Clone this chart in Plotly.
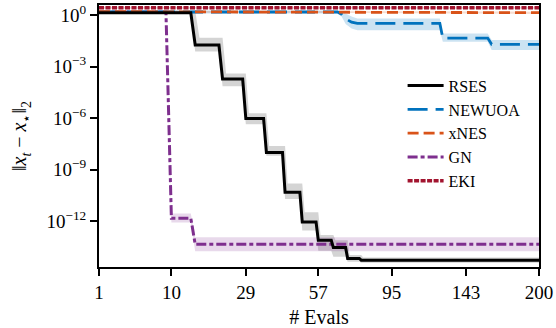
import numpy as np
import plotly.graph_objects as go

# x positions are numbers of evaluations, the axis is drawn on a sqrt scale
x_ticks = [1, 10, 29, 57, 95, 143, 200]
y_ticks = [1e0, 1e-3, 1e-6, 1e-9, 1e-12]
y_ticktext = ["10<sup>0</sup>", "10<sup>\u22123</sup>", "10<sup>\u22126</sup>",
              "10<sup>\u22129</sup>", "10<sup>\u221212</sup>"]

rses_evals = [1, 14, 15, 21, 22, 28, 29, 35, 36, 42, 43, 49, 50, 56, 57, 63, 64, 70, 71, 77, 78, 200]
rses_med = [1.35, 1.35, 1.78e-2, 1.78e-2, 1.86e-4, 1.86e-4, 9.5e-7, 9.5e-7, 1.0e-8, 1.0e-8,
            4.9e-11, 4.9e-11, 9.1e-13, 9.1e-13, 7.9e-14, 7.9e-14, 3.0e-14, 3.0e-14,
            7.1e-15, 7.1e-15, 5.6e-15, 5.6e-15]
rses_lo = [1.12, 1.12, 7.4e-3, 7.4e-3, 7.1e-5, 7.1e-5, 4.5e-7, 4.5e-7, 6.5e-9, 6.5e-9,
           2.0e-11, 2.0e-11, 3.0e-13, 3.0e-13, 2.0e-14, 2.0e-14, 8.7e-15, 8.7e-15,
           4.5e-15, 4.5e-15, 4.0e-15, 4.0e-15]
rses_hi_evals = [1, 15, 16, 22, 23, 29, 30, 36, 37, 43, 44, 50, 51, 57, 58, 64, 65, 71, 72, 78, 79, 200]
rses_hi = [1.78, 1.78, 4.7e-2, 4.7e-2, 4.0e-4, 4.0e-4, 1.95e-6, 1.95e-6, 2.4e-8, 2.4e-8,
           1.6e-10, 1.6e-10, 3.4e-12, 3.4e-12, 1.6e-13, 1.6e-13, 7.9e-14, 7.9e-14,
           1.1e-14, 1.1e-14, 7.9e-15, 7.9e-15]

newuoa_evals = [1, 66, 68, 70, 73, 76, 125, 127, 159, 162, 200]
newuoa_med = [1.48, 1.48, 1.1, 0.6, 0.38, 0.32, 0.32, 4.5e-2, 4.5e-2, 1.95e-2, 1.95e-2]
newuoa_lo = [1.2, 1.2, 0.8, 0.3, 0.16, 0.13, 0.13, 2.75e-2, 2.75e-2, 9.1e-3, 9.1e-3]
newuoa_hi = [1.8, 1.8, 1.6, 1.2, 0.8, 0.62, 0.62, 8.3e-2, 8.3e-2, 3.5e-2, 3.5e-2]

xnes_evals = [1, 50, 100, 150, 200]
xnes_med = [1.55, 1.52, 1.48, 1.42, 1.35]
xnes_lo = [1.35, 1.32, 1.28, 1.22, 1.15]
xnes_hi = [1.75, 1.72, 1.68, 1.62, 1.55]

gn_evals = [1, 9, 10, 14, 15, 200]
gn_med = [1.45, 1.45, 1.55e-12, 1.55e-12, 4.7e-14, 4.7e-14]
gn_lo = [1.2, 1.2, 8.7e-13, 8.7e-13, 1.86e-14, 1.86e-14]
gn_hi = [1.8, 1.8, 2.9e-12, 2.9e-12, 1.2e-13, 1.2e-13]

eki_evals = [1, 200]
eki_med = [2.6, 2.6]
eki_lo = [2.3, 2.3]
eki_hi = [2.95, 2.95]

FONT = "Liberation Serif"


def sx(evals):
  return np.sqrt(np.array(evals, dtype=float))


def band(evals_lo, lo, evals_hi, hi, color):
  x = np.concatenate([sx(evals_hi), sx(evals_lo)[::-1]])
  y = list(hi) + list(lo)[::-1]
  return go.Scatter(x=x, y=y, fill="toself", fillcolor=color, mode="lines",
                    line=dict(width=0, color=color), hoverinfo="skip", showlegend=False)


def line(evals, vals, name, color, width, dash, rank):
  return go.Scatter(x=sx(evals), y=vals, name=name, mode="lines", legendrank=rank,
                    line=dict(color=color, width=width, dash=dash))


blue = "#0072BD"
orange = "#D95319"
purple = "#7E2F8E"
red = "#A2142F"

traces = [
  band(rses_evals, rses_lo, rses_hi_evals, rses_hi, "rgba(0,0,0,0.17)"),
  band(newuoa_evals, newuoa_lo, newuoa_evals, newuoa_hi, "rgba(0,114,189,0.2)"),
  band(gn_evals, gn_lo, gn_evals, gn_hi, "rgba(126,47,142,0.18)"),
  band(xnes_evals, xnes_lo, xnes_evals, xnes_hi, "rgba(217,83,25,0.2)"),
  band(eki_evals, eki_lo, eki_evals, eki_hi, "rgba(162,20,47,0.2)"),
  line(gn_evals, gn_med, "GN", purple, 3, "10px,3px,4px,3px", 4),
  line(newuoa_evals, newuoa_med, "NEWUOA", blue, 2.8, "20px,8px", 2),
  line(xnes_evals, xnes_med, "xNES", orange, 2.8, "11px,5px", 3),
  line(rses_evals, rses_med, "RSES", "black", 3, "solid", 1),
  line(eki_evals, eki_med, "EKI", red, 3.5, "5px,1.5px", 5),
]

fig = go.Figure(data=traces)

fig.update_layout(
  width=556, height=328,
  margin=dict(l=99, r=17, t=3, b=61),
  paper_bgcolor="white", plot_bgcolor="white",
  font=dict(family=FONT, size=19, color="black"),
  legend=dict(x=0.69, y=0.757, xanchor="left", yanchor="top",
              bgcolor="rgba(0,0,0,0)", font=dict(family=FONT, size=16),
              tracegroupgap=0, itemwidth=36),
)

fig.update_xaxes(
  range=[1, np.sqrt(200)],
  tickvals=sx(x_ticks), ticktext=[str(v) for v in x_ticks],
  ticks="outside", ticklen=7, tickwidth=1.5, tickcolor="black",
  showline=True, linewidth=2, linecolor="black", mirror=True,
  showgrid=False, zeroline=False,
  title=dict(text="# Evals", standoff=8, font=dict(size=20)),
)

fig.update_yaxes(
  type="log", range=[-14.65, 0.577],
  tickvals=y_ticks, ticktext=y_ticktext,
  ticks="outside", ticklen=7, tickwidth=1.5, tickcolor="black",
  showline=True, linewidth=2, linecolor="black", mirror=True,
  showgrid=False, zeroline=False,
  title=dict(text="\u2016<i>x</i><sub><i>t</i></sub> \u2212 <i>x</i><sub>\u22c6</sub>\u2016<sub>2</sub>",
             standoff=14, font=dict(size=20)),
)

fig.write_html("out.html", config={"displayModeBar": False},
               post_script="document.body.style.margin='0';")
